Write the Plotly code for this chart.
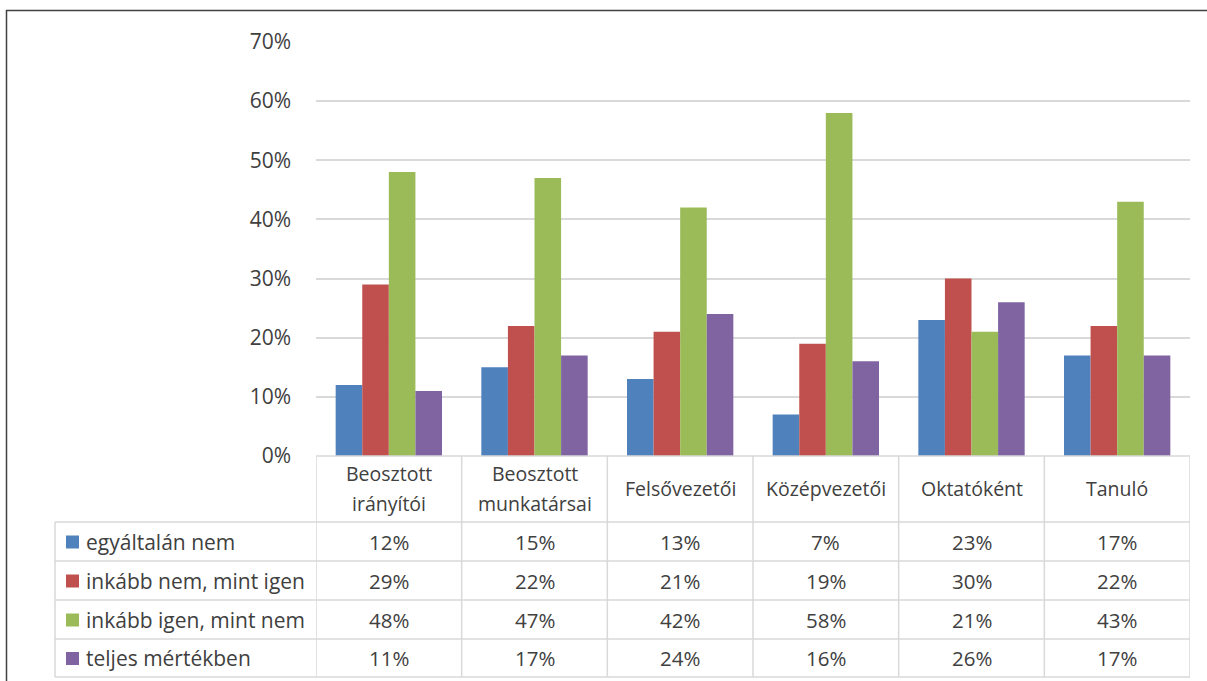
import plotly.graph_objects as go

categories = ["Beosztott irányítói", "Beosztott munkatársai", "Felsővezetői",
              "Középvezetői", "Oktatóként", "Tanuló"]
header_lines = [["Beosztott", "irányítói"], ["Beosztott", "munkatársai"], ["Felsővezetői"],
                ["Középvezetői"], ["Oktatóként"], ["Tanuló"]]
series_names = ["egyáltalán nem", "inkább nem, mint igen", "inkább igen, mint nem", "teljes mértékben"]
egyaltalan_nem = [12, 15, 13, 7, 23, 17]
inkabb_nem = [29, 22, 21, 19, 30, 22]
inkabb_igen = [48, 47, 42, 58, 21, 43]
teljes = [11, 17, 24, 16, 26, 17]
series_values = [egyaltalan_nem, inkabb_nem, inkabb_igen, teljes]
colors = ["#4F81BD", "#C0504D", "#9BBB59", "#8064A2"]
y_ticks = [0, 10, 20, 30, 40, 50, 60, 70]

W, H = 1207, 681
L, R, T, B = 316, 17, 42, 225
PW, PH = W - L - R, H - T - B
FONT = "Open Sans"
FS_HEAD = 19.5
FS_LEG = 21
FS_VAL = 20.5
FS_TICK = 21
TXT = "#404040"
GRID = "#D9D9D9"


def px(x):
    return (x - L) / PW


def py(y):
    return (H - B - y) / PH


fig = go.Figure()
for name, vals, col in zip(series_names, series_values, colors):
    fig.add_trace(go.Bar(x=categories, y=[v / 100 for v in vals], name=name,
                         marker=dict(color=col, line=dict(width=0)), showlegend=False))

shapes = []
ann = []
row_edges = [456, 522, 561, 600, 639, 677]
left_x = 55
n = len(categories)
for i in range(n + 1):
    shapes.append(dict(type="line", xref="x", yref="paper", x0=i - 0.5, x1=i - 0.5,
                       y0=py(row_edges[0]), y1=py(row_edges[-1]), line=dict(color=GRID, width=1.5)))
shapes.append(dict(type="line", xref="paper", yref="paper", x0=px(left_x), x1=px(left_x),
                   y0=py(row_edges[1]), y1=py(row_edges[-1]), line=dict(color=GRID, width=1.5)))
for j, ye in enumerate(row_edges):
    x0 = px(L) if j == 0 else px(left_x)
    shapes.append(dict(type="line", xref="paper", yref="paper", x0=x0, x1=1,
                       y0=py(ye), y1=py(ye), line=dict(color=GRID, width=1.5)))

for i, lines in enumerate(header_lines):
    ys = [473, 503] if len(lines) == 2 else [489]
    for t, yy in zip(lines, ys):
        ann.append(dict(x=i, xref="x", y=py(yy), yref="paper", text=t, showarrow=False,
                        xanchor="center", yanchor="middle", font=dict(family=FONT, size=FS_HEAD, color=TXT)))

for r, (name, vals, col) in enumerate(zip(series_names, series_values, colors)):
    yc = (row_edges[r + 1] + row_edges[r + 2]) / 2
    shapes.append(dict(type="rect", xref="paper", yref="paper", x0=px(66), x1=px(79),
                       y0=py(yc - 6), y1=py(yc + 7), fillcolor=col, line=dict(width=0)))
    ann.append(dict(x=px(84), xref="paper", y=py(yc), yref="paper", text=name, showarrow=False,
                    xanchor="left", yanchor="middle", font=dict(family=FONT, size=FS_LEG, color=TXT)))
    for i, v in enumerate(vals):
        ann.append(dict(x=i, xref="x", y=py(yc), yref="paper", text=f"{v}%", showarrow=False,
                        xanchor="center", yanchor="middle", font=dict(family=FONT, size=FS_VAL, color=TXT)))

shapes.append(dict(type="rect", xref="paper", yref="paper", x0=px(6.5), x1=px(1215),
                   y0=py(10.5), y1=py(700), line=dict(color="#404040", width=1.5), layer="above"))

fig.update_layout(
    width=W, height=H,
    margin=dict(l=L, r=R, t=T, b=B, pad=0),
    paper_bgcolor="white", plot_bgcolor="white",
    barmode="group", bargap=0.27, bargroupgap=0,
    font=dict(family=FONT, size=FS_TICK, color=TXT),
    xaxis=dict(showticklabels=False, showgrid=False, zeroline=False, showline=False,
               range=[-0.5, n - 0.5], fixedrange=True),
    yaxis=dict(range=[0, 0.7], tickvals=[v / 100 for v in y_ticks],
               ticktext=[f"{v}%" for v in y_ticks], showgrid=True, gridcolor=GRID, gridwidth=1.5,
               zeroline=False, showline=False, ticks="", ticklabelstandoff=24,
               tickfont=dict(family=FONT, size=FS_TICK, color=TXT)),
    shapes=shapes, annotations=ann,
)

fig.write_html("out.html")
